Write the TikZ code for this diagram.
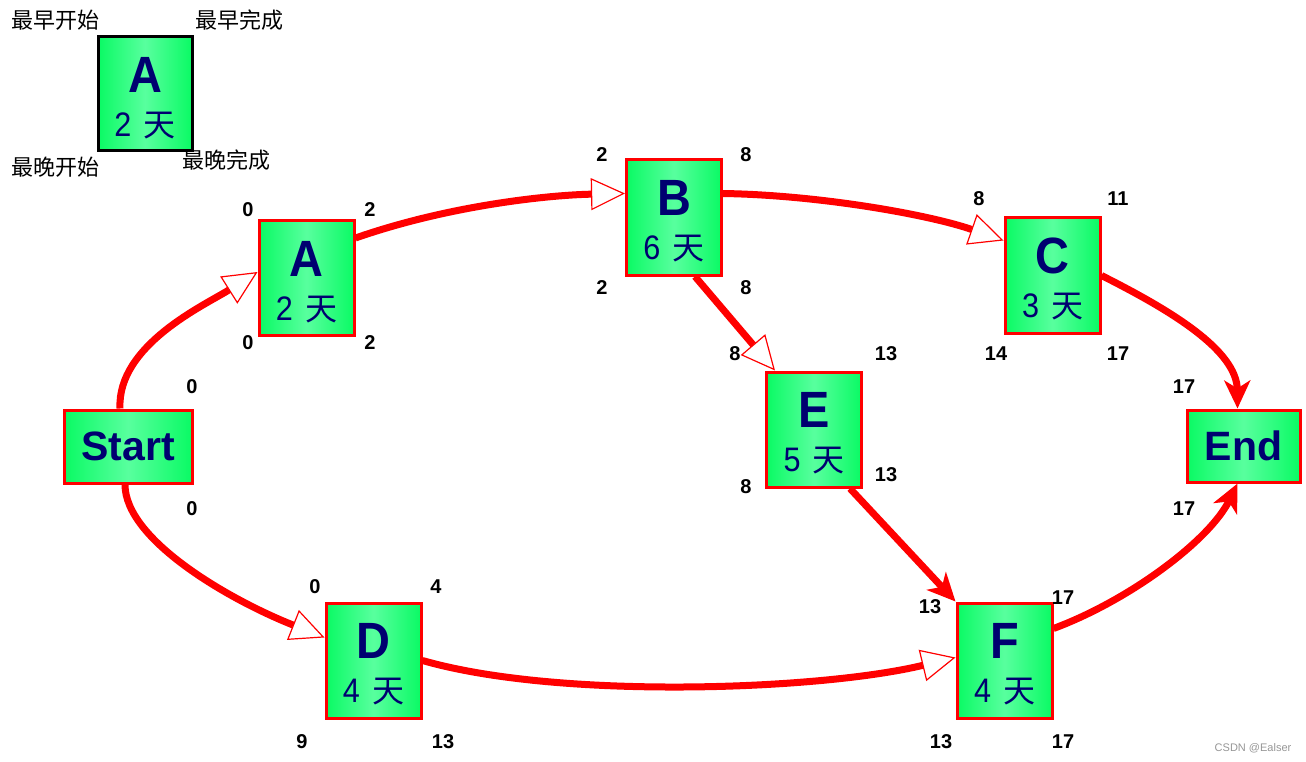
\documentclass[tikz,border=0pt]{standalone}
\usepackage{fontspec}
\usepackage{graphicx}
\setmainfont{Liberation Sans}
\newfontfamily\cjk{Noto Sans CJK SC}
\usetikzlibrary{arrows.meta,calc}
\definecolor{gEdge}{RGB}{10,250,100}
\definecolor{gMid}{RGB}{88,255,158}
\definecolor{navy}{RGB}{0,0,112}
\definecolor{wm}{RGB}{150,150,150}
\newcommand\ltrf[1]{{\fontsize{51}{51}\selectfont\bfseries\rule{0pt}{43pt}\scalebox{0.92}[1]{#1}}}
\newcommand\dayf[1]{{\fontsize{34}{44}\selectfont\scalebox{0.9}[1]{#1}\hspace{12pt}{\cjk\fontsize{32}{44}\selectfont 天}}}
\tikzset{
  task/.style={draw=red, line width=3pt, left color=gEdge, right color=gEdge, middle color=gMid,
    minimum width=95pt, minimum height=115pt, inner sep=0pt, align=center, text=navy,
    font=\fontsize{34}{44}\selectfont},
  term/.style={draw=red, line width=3pt, left color=gEdge, right color=gEdge, middle color=gMid,
    inner sep=0pt, text=navy, font=\fontsize{41}{45}\selectfont\bfseries},
  num/.style={font=\fontsize{20}{24}\selectfont\bfseries, inner sep=0pt},
  lbl/.style={font=\cjk\fontsize{22}{26}\selectfont, inner sep=0pt},
  link/.style={draw=red, line width=7pt},
  opentip/.style={-{Triangle[open, fill=white, length=34pt, width=32pt, line width=1.2pt]}},
  solidtip/.style={-{Stealth[length=28pt, width=26pt, inset=8pt]}}
}
\begin{document}
\begin{tikzpicture}[x=1pt,y=-1pt]
\useasboundingbox (0,0) rectangle (1306,762);
% legend
\node[task, draw=black, minimum width=94pt, minimum height=114pt] (LA) at (145,94) {\ltrf{A}\\\dayf{2}};
\node[lbl] (l1) at (55,20) {最早开始};
\node[lbl] (l2) at (239,20) {最早完成};
\node[lbl] (l3) at (55,167) {最晚开始};
\node[lbl] (l4) at (226,160) {最晚完成};
% nodes
\node[task] (A) at (306.5,278) {\ltrf{A}\\\dayf{2}};
\node[task] (B) at (674,217.5) {\ltrf{B}\\\dayf{6}};
\node[task] (C) at (1052.5,275.5) {\ltrf{C}\\\dayf{3}};
\node[task] (E) at (814,429.5) {\ltrf{E}\\\dayf{5}};
\node[task] (D) at (373.5,660.5) {\ltrf{D}\\\dayf{4}};
\node[task] (F) at (1004.5,660.5) {\ltrf{F}\\\dayf{4}};
\node[term, minimum width=128pt, minimum height=73pt] (S) at (128,446.5) {Start};
\node[term, minimum width=113pt, minimum height=72pt] (End) at (1243.5,446) {End};
% numbers
\node[num] (a1) at (248,210) {0};
\node[num] (a2) at (370,210) {2};
\node[num] (a3) at (248,343) {0};
\node[num] (a4) at (370,343) {2};
\node[num] (b1) at (602,155) {2};
\node[num] (b2) at (746,155) {8};
\node[num] (b3) at (602,288) {2};
\node[num] (b4) at (746,288) {8};
\node[num] (c1) at (979,199) {8};
\node[num] (c2) at (1118,199) {11};
\node[num] (c3) at (996,354) {14};
\node[num] (c4) at (1118,354) {17};
\node[num] (e1) at (735,354) {8};
\node[num] (e2) at (886,354) {13};
\node[num] (e3) at (746,487) {8};
\node[num] (e4) at (886,475) {13};
\node[num] (s1) at (192,387) {0};
\node[num] (s2) at (192,509) {0};
\node[num] (n1) at (1184,387) {17};
\node[num] (n2) at (1184,509) {17};
\node[num] (d1) at (315,587) {0};
\node[num] (d2) at (436,587) {4};
\node[num] (d3) at (302,742) {9};
\node[num] (d4) at (443,742) {13};
\node[num] (f1) at (930,607) {13};
\node[num] (f2) at (1063,598) {17};
\node[num] (f3) at (941,742) {13};
\node[num] (f4) at (1063,742) {17};
% connectors
\draw[link, opentip] ([xshift=-8pt]S.north) .. controls (117,345) and (205,305) .. ([yshift=6pt]A.west);
\draw[link, opentip] ([yshift=40pt]A.east) .. controls (450,205) and (550,195) .. ([yshift=24pt]B.west);
\draw[link, opentip] ([yshift=24pt]B.east) .. controls (820,195) and (930,215) .. ([yshift=35pt]C.west);
\draw[link, opentip] ([xshift=21pt]B.south) -- ([xshift=10pt]E.north west);
\draw[link, solidtip] (C.east) .. controls (1170,310) and (1237,350) .. ([xshift=-6pt]End.north);
\draw[link, opentip] ([xshift=-3pt]S.south) .. controls (125,540) and (230,600) .. ([yshift=23pt]D.west);
\draw[link, opentip] (D.east) .. controls (560,700) and (820,690) .. ([yshift=3pt]F.west);
\draw[link, solidtip] ([xshift=36pt]E.south) -- (F.north west);
\draw[link, solidtip] ([yshift=32pt]F.east) .. controls (1130,600) and (1210,540) .. ([xshift=-6pt]End.south);
% watermark
\node[text=wm, font=\fontsize{11}{13}\selectfont, inner sep=0pt] (wmk) at (1253,748) {CSDN @Ealser};
\end{tikzpicture}
\end{document}
